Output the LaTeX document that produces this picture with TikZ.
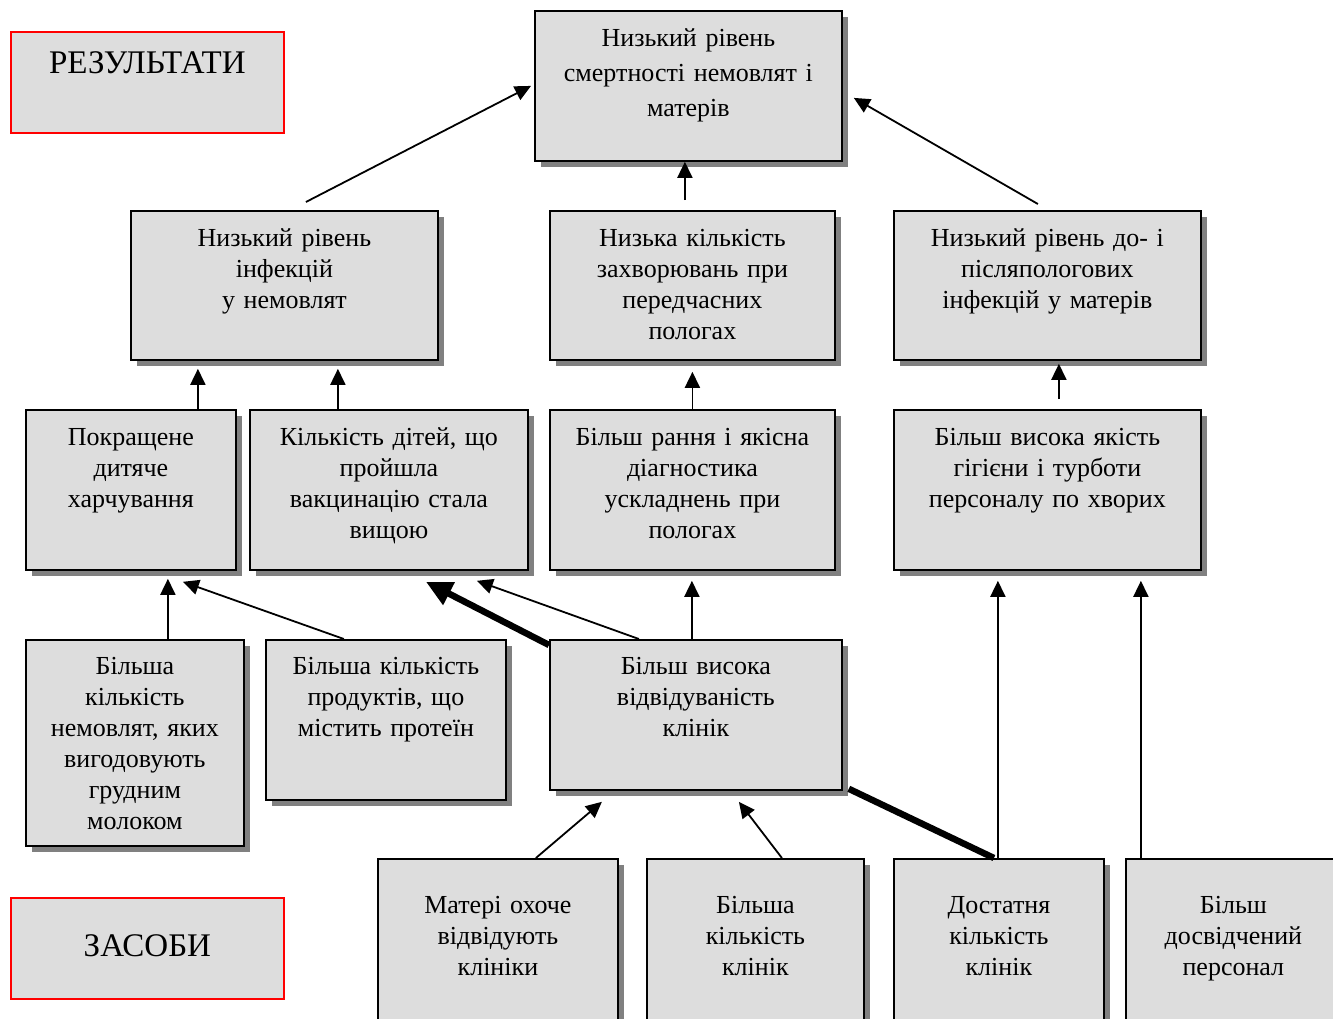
\documentclass[tikz,border=0pt]{standalone}
\usepackage{fontspec}
\setmainfont{Liberation Serif}
\usetikzlibrary{arrows.meta,shadows}
\definecolor{cellgray}{HTML}{DDDDDD}

\begin{document}
\begin{tikzpicture}[x=1pt,y=-1pt,
  cell/.style={draw,line width=1.8pt,fill=cellgray,drop shadow={shadow xshift=6pt,shadow yshift=-6pt,fill=black!50,opacity=1},anchor=north west,align=center,inner xsep=3pt,inner ysep=0pt,text height=36pt,font=\fontsize{26}{31}\selectfont},
  tag/.style={draw=red,line width=1.8pt,fill=cellgray,anchor=north west,align=center,inner xsep=3pt,inner ysep=0pt,font=\fontsize{33}{38}\selectfont},
  link/.style={line width=1.8pt,-{Triangle[length=16pt,width=15pt]}},
  bold/.style={line width=6.5pt,-{Triangle[length=26pt,width=24pt]}}]
\useasboundingbox (0,0) rectangle (1333,1018);
\node[tag,text width=267pt,text height=42pt,text depth=59pt] (k0) at (10,31) {РЕЗУЛЬТАТИ};
\node[tag,text width=267pt,text height=59pt,text depth=42pt] (k1) at (10,897) {ЗАСОБИ};
\node[cell,text width=301pt,text depth=114pt,font=\fontsize{26}{35}\selectfont] (g0) at (534,10) {Низький рівень\\смертності немовлят і\\матерів};
\node[cell,text width=301pt,text depth=113pt] (g1) at (130,210) {Низький рівень\\інфекцій\\у немовлят};
\node[cell,text width=279pt,text depth=113pt] (g2) at (549,210) {Низька кількість\\захворювань при\\передчасних\\пологах};
\node[cell,text width=301pt,text depth=113pt] (g3) at (893,210) {Низький рівень до- і\\післяпологових\\інфекцій у матерів};
\node[cell,text width=204pt,text depth=124pt] (g4) at (25,409) {Покращене\\дитяче\\харчування};
\node[cell,text width=272pt,text depth=124pt] (g5) at (249,409) {Кількість дітей, що\\пройшла\\вакцинацію стала\\вищою};
\node[cell,text width=279pt,text depth=124pt] (g6) at (549,409) {Більш рання і якісна\\діагностика\\ускладнень при\\пологах};
\node[cell,text width=301pt,text depth=124pt] (g7) at (893,409) {Більш висока якість\\гігієни і турботи\\персоналу по хворих};
\node[cell,text width=212pt,text height=35pt,text depth=171pt] (g8) at (25,639) {Більша\\кількість\\немовлят, яких\\вигодовують\\грудним\\молоком};
\node[cell,text width=234pt,text height=35pt,text depth=125pt] (g9) at (265,639) {Більша кількість\\продуктів, що\\містить протеїн};
\node[cell,text width=286pt,text height=35pt,text depth=115pt] (g10) at (549,639) {Більш висока\\відвідуваність\\клінік};
\node[cell,text width=234pt,text height=55pt,text depth=125pt] (g11) at (377,858) {Матері охоче\\відвідують\\клініки};
\node[cell,text width=211pt,text height=55pt,text depth=125pt] (g12) at (646,858) {Більша\\кількість\\клінік};
\node[cell,text width=204pt,text height=55pt,text depth=125pt] (g13) at (893,858) {Достатня\\кількість\\клінік};
\node[cell,text width=209pt,text height=55pt,text depth=125pt] (g14) at (1125,858) {Більш\\досвідчений\\персонал};

\draw[link] ([xshift=21.5pt,yshift=8pt]g1.north) -- ([xshift=-3pt]g0.west);
\draw[link] ([xshift=-7.5pt,yshift=10pt]g2.north) -- ([xshift=-3.5pt]g0.south);
\draw[link] ([xshift=-9.5pt,yshift=6pt]g3.north) -- ([xshift=11pt,yshift=-12pt]g0.east);
\draw[link] ([xshift=67pt]g4.north) -- ([xshift=-86.5pt,yshift=-8pt]g1.south);
\draw[link] ([xshift=-51pt]g5.north) -- ([xshift=53.5pt,yshift=-8pt]g1.south);
\draw[link] (g6.north) -- ([yshift=-11pt]g2.south);
\draw[link] ([xshift=11.5pt,yshift=10pt]g7.north) -- ([xshift=11.5pt,yshift=-3pt]g3.south);
\draw[link] ([xshift=33pt]g8.north) -- ([xshift=37pt,yshift=-8pt]g4.south);
\draw[link] ([xshift=-42pt]g9.north) -- ([xshift=52pt,yshift=-11pt]g4.south);
\draw[bold] ([yshift=-6pt]g10.north west) -- ([xshift=37pt,yshift=-11pt]g5.south);
\draw[link] ([xshift=-57pt]g10.north) -- ([xshift=88pt,yshift=-10pt]g5.south);
\draw[link] ([xshift=-4pt]g10.north) -- ([xshift=-0.5pt,yshift=-10pt]g6.south);
\draw[link] ([xshift=38pt]g11.north) -- ([xshift=-94pt,yshift=-11pt]g10.south);
\draw[link] ([xshift=26.5pt]g12.north) -- ([xshift=43pt,yshift=-11pt]g10.south);
\draw[line width=6.5pt] ([xshift=-5pt]g13.north) -- ([xshift=6pt,yshift=2pt]g10.south east);
\draw[link] ([xshift=-1pt]g13.north) -- ([xshift=-49.5pt,yshift=-10pt]g7.south);
\draw[link] ([xshift=-92.5pt]g14.north) -- ([xshift=93.5pt,yshift=-10pt]g7.south);
\end{tikzpicture}
\end{document}
